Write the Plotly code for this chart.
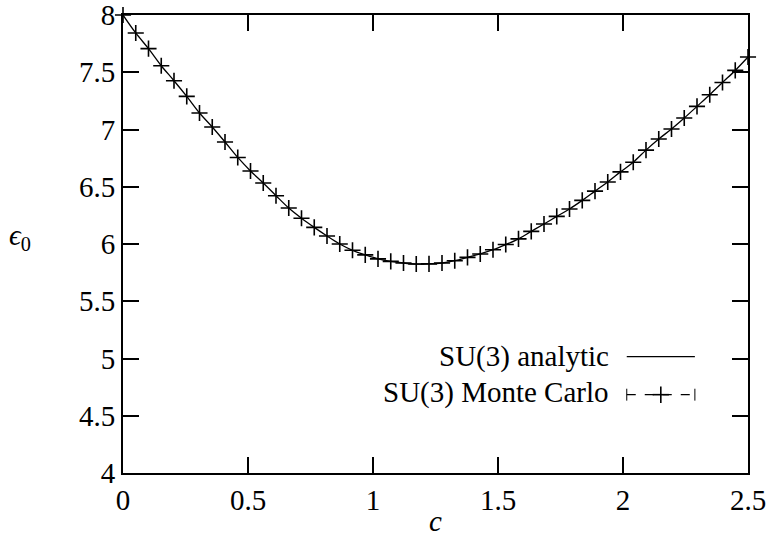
import plotly.graph_objects as go

c_vals = [0.0, 0.051, 0.102, 0.153, 0.204, 0.255, 0.306, 0.357, 0.408, 0.459,
          0.510, 0.561, 0.612, 0.663, 0.714, 0.765, 0.816, 0.867, 0.918, 0.969,
          1.020, 1.071, 1.122, 1.173, 1.224, 1.276, 1.327, 1.378, 1.429, 1.480,
          1.531, 1.582, 1.633, 1.684, 1.735, 1.786, 1.837, 1.888, 1.939, 1.990,
          2.041, 2.092, 2.143, 2.194, 2.245, 2.296, 2.347, 2.398, 2.449, 2.500]

analytic = [8.000, 7.843, 7.706, 7.557, 7.426, 7.289, 7.144, 7.022, 6.891, 6.756,
            6.638, 6.533, 6.422, 6.314, 6.225, 6.145, 6.070, 6.000, 5.945, 5.905,
            5.870, 5.848, 5.834, 5.825, 5.826, 5.834, 5.854, 5.883, 5.913, 5.950,
            5.995, 6.045, 6.110, 6.175, 6.241, 6.306, 6.381, 6.462, 6.542, 6.630,
            6.714, 6.820, 6.917, 7.004, 7.100, 7.202, 7.304, 7.411, 7.516, 7.633]

monte_carlo = list(analytic)

x_ticks = [0, 0.5, 1, 1.5, 2, 2.5]
x_tick_text = ["0", "0.5", "1", "1.5", "2", "2.5"]
y_ticks = [4, 4.5, 5, 5.5, 6, 6.5, 7, 7.5, 8]
y_tick_text = ["4", "4.5", "5", "5.5", "6", "6.5", "7", "7.5", "8"]

FONT = "Liberation Serif"
FS = 29

fig = go.Figure()
fig.add_trace(go.Scatter(x=c_vals, y=analytic, mode="lines",
                         line=dict(color="black", width=1.3, shape="spline"),
                         name="SU(3) analytic", showlegend=False, cliponaxis=False))
fig.add_trace(go.Scatter(x=c_vals, y=monte_carlo, mode="markers",
                         marker=dict(symbol="cross-thin", size=11.5,
                                     line=dict(color="black", width=1.6)),
                         name="SU(3) Monte Carlo", showlegend=False, cliponaxis=False))

axis_common = dict(showline=True, linecolor="black", linewidth=2, mirror="ticks",
                   ticks="inside", ticklen=16, tickwidth=2, tickcolor="black",
                   showgrid=False, zeroline=False, automargin=False,
                   ticklabeloverflow="allow",
                   tickfont=dict(family=FONT, size=FS, color="black"))

fig.update_xaxes(range=[0, 2.5], tickvals=x_ticks, ticktext=x_tick_text, **axis_common)
fig.update_yaxes(range=[4, 8], tickvals=y_ticks, ticktext=y_tick_text, **axis_common)

# legend drawn manually (gnuplot style: text right-aligned, sample on right)
fig.add_annotation(xref="paper", yref="paper", x=0.78, y=0.254, xanchor="right",
                   yanchor="middle", text="SU(3) analytic", showarrow=False,
                   font=dict(family=FONT, size=FS, color="black"))
fig.add_annotation(xref="paper", yref="paper", x=0.78, y=0.175, xanchor="right",
                   yanchor="middle", text="SU(3) Monte Carlo", showarrow=False,
                   font=dict(family=FONT, size=FS, color="black"))
fig.add_shape(type="line", xref="paper", yref="paper", x0=0.806, x1=0.915,
              y0=0.254, y1=0.254, line=dict(color="black", width=1.3))
fig.add_shape(type="line", xref="paper", yref="paper", x0=0.806, x1=0.915,
              y0=0.171, y1=0.171, line=dict(color="black", width=1.2, dash="dash"))
fig.add_shape(type="line", xref="paper", yref="paper", x0=0.806, x1=0.806,
              y0=0.158, y1=0.184, line=dict(color="black", width=1))
fig.add_shape(type="line", xref="paper", yref="paper", x0=0.915, x1=0.915,
              y0=0.158, y1=0.184, line=dict(color="black", width=1))
fig.add_shape(type="line", xref="paper", yref="paper", x0=0.8475, x1=0.8735,
              y0=0.171, y1=0.171, line=dict(color="black", width=1.6))
fig.add_shape(type="line", xref="paper", yref="paper", x0=0.8605, x1=0.8605,
              y0=0.153, y1=0.189, line=dict(color="black", width=1.6))

# axis titles
fig.add_annotation(xref="paper", yref="paper", x=0.5, y=-0.1434, xanchor="center",
                   yanchor="bottom", text="<i>c</i>", showarrow=False,
                   font=dict(family=FONT, size=FS, color="black"))
fig.add_annotation(xref="paper", yref="paper", x=-0.165, y=0.515, xanchor="center",
                   yanchor="middle", text="<i>ϵ</i><sub>0</sub>", showarrow=False,
                   font=dict(family=FONT, size=FS, color="black"))

fig.update_layout(width=769, height=540, plot_bgcolor="white", paper_bgcolor="white",
                  margin=dict(l=123, r=21, t=15, b=67), showlegend=False)

# remove the default 8px page margin so the figure fills the window exactly
fig.write_html("out.html", config={"displayModeBar": False},
               post_script="document.body.style.margin='0';document.body.style.overflow='hidden';")
